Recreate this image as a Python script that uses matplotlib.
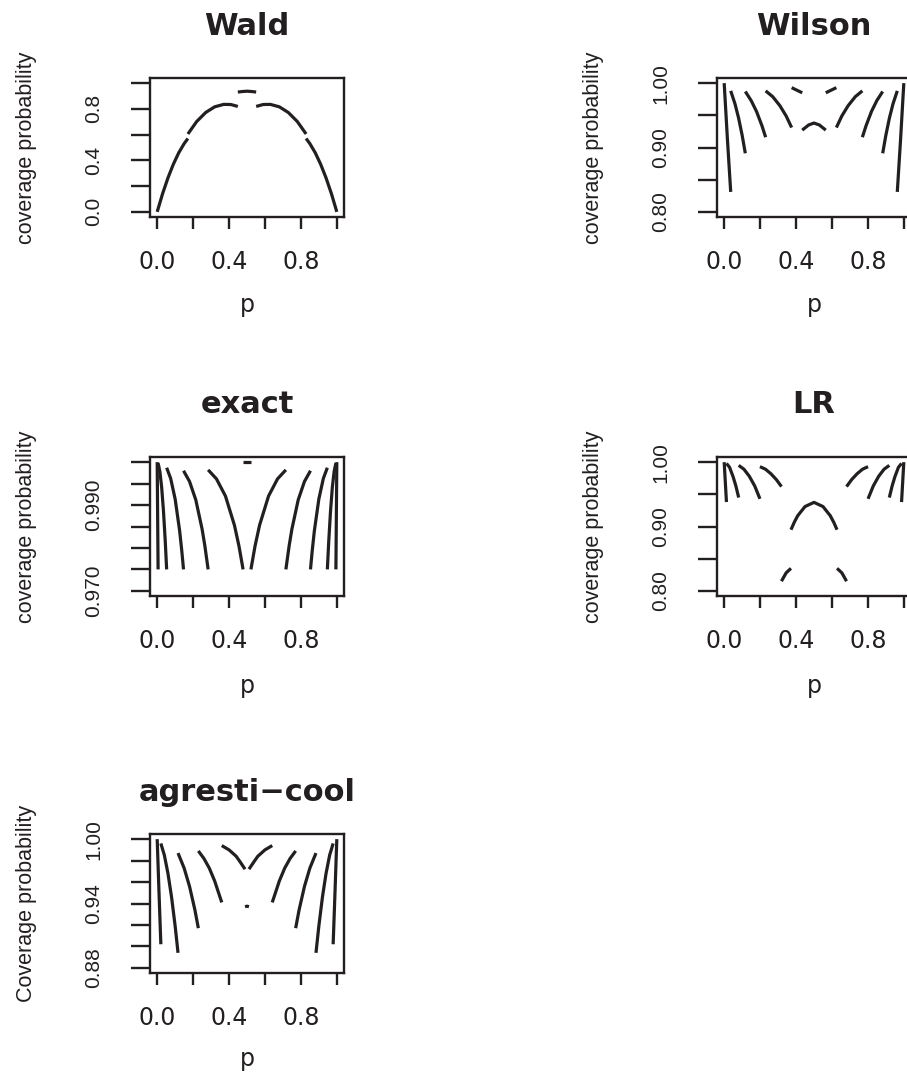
import matplotlib
matplotlib.use('Agg')
import matplotlib.pyplot as plt

# coverage probability curves, one list per piece
wald_p = [
    [0.0, 0.03, 0.06, 0.09, 0.12, 0.15, 0.171],
    [0.171, 0.22, 0.27, 0.32, 0.37, 0.41, 0.449],
    [0.449, 0.475, 0.5, 0.525, 0.551],
    [0.551, 0.59, 0.63, 0.68, 0.73, 0.78, 0.829],
    [0.829, 0.85, 0.88, 0.91, 0.94, 0.97, 1.0],
]
wald_cov = [
    [0.0, 0.141, 0.264, 0.370, 0.459, 0.530, 0.570],
    [0.605, 0.702, 0.772, 0.816, 0.835, 0.834, 0.819],
    [0.931, 0.935, 0.9375, 0.935, 0.931],
    [0.819, 0.834, 0.835, 0.816, 0.772, 0.702, 0.605],
    [0.570, 0.530, 0.459, 0.370, 0.264, 0.141, 0.0],
]

wilson_p = [
    [0.0, 0.018, 0.0363],
    [0.0363, 0.06, 0.08, 0.10, 0.1176],
    [0.1176, 0.15, 0.18, 0.21, 0.2308],
    [0.2308, 0.27, 0.31, 0.345, 0.3755],
    [0.3755, 0.405, 0.4345],
    [0.4345, 0.47, 0.5, 0.53, 0.5655],
    [0.5655, 0.595, 0.6245],
    [0.6245, 0.655, 0.69, 0.73, 0.7692],
    [0.7692, 0.79, 0.82, 0.85, 0.8824],
    [0.8824, 0.90, 0.92, 0.94, 0.9637],
    [0.9637, 0.982, 1.0],
]
wilson_cov = [
    [1.0, 0.913, 0.831],
    [0.988, 0.968, 0.946, 0.919, 0.891],
    [0.987, 0.973, 0.956, 0.934, 0.916],
    [0.988, 0.979, 0.965, 0.949, 0.931],
    [0.993, 0.989, 0.985],
    [0.927, 0.935, 0.938, 0.935, 0.927],
    [0.985, 0.989, 0.993],
    [0.931, 0.949, 0.965, 0.979, 0.988],
    [0.916, 0.934, 0.956, 0.973, 0.987],
    [0.891, 0.919, 0.946, 0.968, 0.988],
    [0.831, 0.913, 1.0],
]

exact_p = [
    [0.0, 0.0025, 0.00505],
    [0.00505, 0.015, 0.025, 0.035, 0.045, 0.0527],
    [0.0527, 0.075, 0.10, 0.125, 0.137, 0.1466],
    [0.1466, 0.18, 0.215, 0.25, 0.265, 0.2836],
    [0.2836, 0.33, 0.38, 0.43, 0.455, 0.4782],
    [0.4782, 0.5218],
    [0.5218, 0.545, 0.57, 0.62, 0.67, 0.7164],
    [0.7164, 0.735, 0.75, 0.785, 0.82, 0.8534],
    [0.8534, 0.863, 0.875, 0.90, 0.925, 0.9473],
    [0.9473, 0.955, 0.965, 0.975, 0.985, 0.99495],
    [0.99495, 0.9975, 1.0],
]
exact_cov = [
    [1.0, 0.9876, 0.975],
    [0.9998, 0.9978, 0.9941, 0.9886, 0.9815, 0.975],
    [0.9987, 0.9962, 0.9914, 0.9840, 0.9793, 0.975],
    [0.9980, 0.9955, 0.9912, 0.9844, 0.9806, 0.975],
    [0.9982, 0.9961, 0.9921, 0.9853, 0.9805, 0.975],
    [1.0, 1.0],
    [0.975, 0.9805, 0.9853, 0.9921, 0.9961, 0.9982],
    [0.975, 0.9806, 0.9844, 0.9912, 0.9955, 0.9980],
    [0.975, 0.9793, 0.9840, 0.9914, 0.9962, 0.9987],
    [0.975, 0.9815, 0.9886, 0.9941, 0.9978, 0.9998],
    [0.975, 0.9876, 1.0],
]

lr_p = [
    [0.0, 0.0063, 0.01263],
    [0.01263, 0.03, 0.05, 0.065, 0.0807],
    [0.0807, 0.11, 0.14, 0.17, 0.1991],
    [0.1991, 0.23, 0.26, 0.29, 0.3189],
    [0.3189, 0.345, 0.3718],
    [0.3718, 0.39, 0.41, 0.45, 0.5, 0.55, 0.59, 0.61, 0.6282],
    [0.6282, 0.655, 0.6811],
    [0.6811, 0.71, 0.74, 0.77, 0.8009],
    [0.8009, 0.83, 0.86, 0.89, 0.9193],
    [0.9193, 0.935, 0.95, 0.97, 0.98737],
    [0.98737, 0.9937, 1.0],
]
lr_cov = [
    [1.0, 0.969, 0.938],
    [0.998, 0.992, 0.977, 0.963, 0.945],
    [0.995, 0.989, 0.978, 0.963, 0.943],
    [0.993, 0.989, 0.982, 0.973, 0.962],
    [0.815, 0.828, 0.835],
    [0.895, 0.9065, 0.917, 0.931, 0.9375, 0.931, 0.917, 0.9065, 0.895],
    [0.835, 0.828, 0.815],
    [0.962, 0.973, 0.982, 0.989, 0.993],
    [0.943, 0.963, 0.978, 0.989, 0.995],
    [0.945, 0.963, 0.977, 0.992, 0.998],
    [0.938, 0.969, 1.0],
]

ac_p = [
    [0.0, 0.0102, 0.0204],
    [0.0204, 0.04, 0.06, 0.08, 0.10, 0.116],
    [0.116, 0.15, 0.18, 0.21, 0.2291],
    [0.2291, 0.26, 0.29, 0.32, 0.3595],
    [0.3595, 0.40, 0.44, 0.465, 0.4891],
    [0.4891, 0.5, 0.5109],
    [0.5109, 0.535, 0.56, 0.60, 0.6405],
    [0.6405, 0.68, 0.71, 0.74, 0.7709],
    [0.7709, 0.79, 0.82, 0.85, 0.884],
    [0.884, 0.90, 0.92, 0.94, 0.96, 0.9796],
    [0.9796, 0.9898, 1.0],
]
ac_cov = [
    [1.0, 0.950, 0.902],
    [0.996, 0.985, 0.968, 0.946, 0.919, 0.894],
    [0.987, 0.973, 0.956, 0.934, 0.917],
    [0.989, 0.982, 0.973, 0.961, 0.941],
    [0.994, 0.990, 0.984, 0.978, 0.972],
    [0.937, 0.9375, 0.937],
    [0.972, 0.978, 0.984, 0.990, 0.994],
    [0.941, 0.961, 0.973, 0.982, 0.989],
    [0.917, 0.934, 0.956, 0.973, 0.987],
    [0.894, 0.919, 0.946, 0.968, 0.985, 0.996],
    [0.902, 0.950, 1.0],
]

x_ticks = [0.0, 0.2, 0.4, 0.6, 0.8, 1.0]
x_labels = ['0.0', '', '0.4', '', '0.8', '']

W, H = 907, 1074
INK = '#231f20'
fig = plt.figure(figsize=(W / 100, H / 100), dpi=100)


def draw_panel(left, top, p_segs, cov_segs, ylim, yticks, ylabels,
               title, title_base, ylabel, xlab_base):
    bw, bh = 194, 139
    ax = fig.add_axes([left / W, 1 - (top + bh) / H, bw / W, bh / H])
    for ps, cs in zip(p_segs, cov_segs):
        ax.plot(ps, cs, color=INK, lw=2.3, solid_capstyle='butt',
                solid_joinstyle='round')
    lo, hi = ylim
    ext = 0.04 * (hi - lo)
    ax.set_xlim(-0.04, 1.04)
    ax.set_ylim(lo - ext, hi + ext)
    ax.set_xticks(x_ticks, x_labels, fontsize=17, family='DejaVu Sans', color=INK)
    ax.set_yticks(yticks, ylabels, fontsize=15, family='Liberation Sans',
                  rotation=90, va='center', color=INK)
    ax.tick_params(axis='x', length=8.6, width=1.7, pad=15.5, color=INK)
    ax.tick_params(axis='y', length=13.7, width=1.7, pad=20, color=INK)
    for s in ax.spines.values():
        s.set_linewidth(1.7)
        s.set_color(INK)

    cx = left + bw / 2
    fig.text(cx / W, 1 - title_base / H, title, ha='center', va='baseline',
             fontsize=22, fontweight='bold', family='DejaVu Sans', color=INK)
    fig.text(cx / W, 1 - xlab_base / H, 'p', ha='center', va='baseline',
             fontsize=17, family='DejaVu Sans', color=INK)
    fig.text((left - 123) / W, 1 - (top + bh / 2) / H, ylabel, rotation=90,
             ha='center', va='center', fontsize=15.5, family='Liberation Sans',
             color=INK)
    return ax


draw_panel(150, 78, wald_p, wald_cov, (0.0, 1.0),
           [0.0, 0.2, 0.4, 0.6, 0.8, 1.0], ['0.0', '', '0.4', '', '0.8', ''],
           'Wald', 35, 'coverage probability', 312)
draw_panel(717, 78, wilson_p, wilson_cov, (0.8, 1.0),
           [0.80, 0.85, 0.90, 0.95, 1.00], ['0.80', '', '0.90', '', '1.00'],
           'Wilson', 35, 'coverage probability', 312)
draw_panel(150, 457, exact_p, exact_cov, (0.97, 1.0),
           [0.970, 0.975, 0.980, 0.985, 0.990, 0.995, 1.000],
           ['0.970', '', '', '', '0.990', '', ''],
           'exact', 413, 'coverage probability', 693)
draw_panel(717, 457, lr_p, lr_cov, (0.8, 1.0),
           [0.80, 0.85, 0.90, 0.95, 1.00], ['0.80', '', '0.90', '', '1.00'],
           'LR', 413, 'coverage probability', 693)
draw_panel(150, 834, ac_p, ac_cov, (0.88, 1.0),
           [0.88, 0.90, 0.92, 0.94, 0.96, 0.98, 1.00],
           ['0.88', '', '', '0.94', '', '', '1.00'],
           'agresti\u2212cool', 801, 'Coverage probability', 1066)

fig.savefig('out.png', dpi=100)
